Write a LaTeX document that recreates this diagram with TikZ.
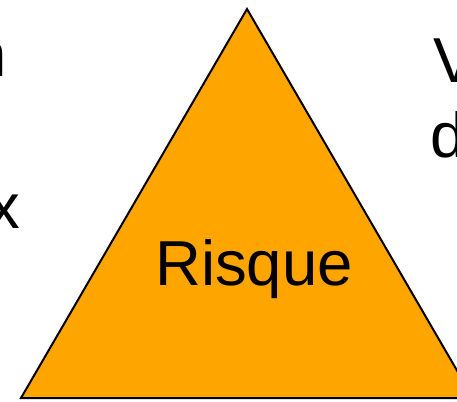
\documentclass[tikz,border=0pt]{standalone}
\usepackage{fontspec}
\setmainfont{Liberation Sans}
\usetikzlibrary{positioning}
\definecolor{risqueorange}{RGB}{255,165,0}

\begin{document}
\begin{tikzpicture}[x=1pt,y=-1pt]
\useasboundingbox (0,0) rectangle (457,401);
\clip (0,0) rectangle (457,401);
\coordinate (tri_top) at (247,9);
\coordinate (tri_left) at (21,398);
\coordinate (tri_right) at (473,398);
\filldraw[fill=risqueorange,draw=black,line width=2pt] (tri_top)--(tri_right)--(tri_left)--cycle;
\node[font=\fontsize{63.5}{76}\selectfont,anchor=base,inner sep=0pt] (tri_label) at (254,285) {Risque};
\node[font=\fontsize{63.5}{76}\selectfont,anchor=base east,inner sep=0pt] (left_a) at (7,77) {n};
\node[font=\fontsize{63.5}{76}\selectfont,anchor=base east,inner sep=0pt] (left_c) at (20,228) {x};
\node[font=\fontsize{63.5}{76}\selectfont,anchor=base west,inner sep=0pt] (right_a) at (433,83) {V};
\node[font=\fontsize{63.5}{76}\selectfont,anchor=base west,inner sep=0pt] (right_b) at (430,157) {d};
\end{tikzpicture}
\end{document}
